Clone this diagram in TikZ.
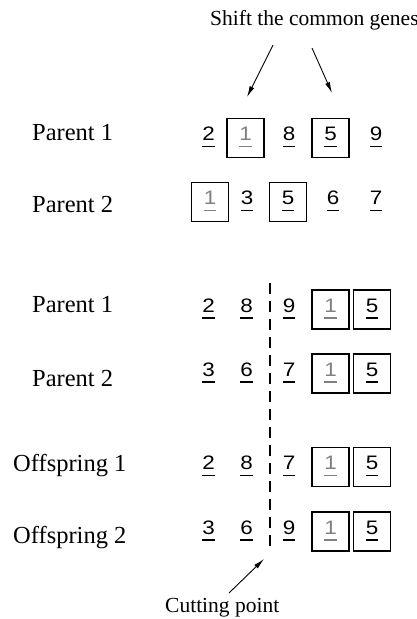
\documentclass[tikz,border=0pt]{standalone}
\usepackage{fontspec}
\setmainfont{Liberation Serif}
\newfontfamily\digitfont{Liberation Sans}
\usetikzlibrary{arrows.meta}
\newcommand\dg[1]{\scalebox{1.15}[1]{#1}}
\tikzset{
  lab/.style={anchor=base west, inner sep=0pt, font=\fontsize{24.5}{26}\selectfont},
  note/.style={anchor=base west, inner sep=0pt, font=\fontsize{21.5}{23}\selectfont},
  gene/.style={anchor=base, inner sep=0pt, font=\digitfont\fontsize{19.5}{21}\selectfont,
    append after command={([yshift=-6pt]\tikzlastnode.base west) edge[line width=1.4pt] ([yshift=-6pt]\tikzlastnode.base east)}},
  genefaint/.style={anchor=base, inner sep=0pt, text=black!50, font=\digitfont\fontsize{19.5}{21}\selectfont,
    append after command={([yshift=-6pt]\tikzlastnode.base west) edge[line width=1.4pt,black!50] ([yshift=-6pt]\tikzlastnode.base east)}},
  genebox/.style={draw, line width=1.4pt, minimum width=37pt, minimum height=39pt, inner sep=0pt},
  arr/.style={line width=0.9pt, -{Latex[length=11pt,width=5pt]}},
  cutline/.style={line width=1.3pt, dash pattern=on 11pt off 7pt}
}
\begin{document}
\begin{tikzpicture}[x=1pt,y=-1pt]
\useasboundingbox (0,0) rectangle (416,619);
% texts
\node[note] (shift) at (210,25) {Shift the common genes};
\node[note] (cut) at (165,612) {Cutting point};
\node[lab] (lp1a) at (32,140) {Parent 1};
\node[lab] (lp2a) at (32,212) {Parent 2};
\node[lab] (lp1b) at (32,312) {Parent 1};
\node[lab] (lp2b) at (32,386) {Parent 2};
\node[lab] (lo1) at (13,471) {Offspring 1};
\node[lab] (lo2) at (13,543) {Offspring 2};
% top parent 1 (yc=138)
\node[genebox] (aB1) at (245.5,138) {};
\node[genebox] (aB5) at (330.5,138) {};
\node[gene] (a1) at (208.5,140.5) {\dg{2}};
\node[genefaint] (a2) at (245.5,140.5) {\dg{1}};
\node[gene] (a3) at (289,140.5) {\dg{8}};
\node[gene] (a4) at (330.5,140.5) {\dg{5}};
\node[gene] (a5) at (376,140.5) {\dg{9}};
% top parent 2 (yc=202)
\node[genebox] (bB1) at (210,202) {};
\node[genebox] (bB5) at (288,202) {};
\node[genefaint] (b1) at (210,204.5) {\dg{1}};
\node[gene] (b2) at (247,204.5) {\dg{3}};
\node[gene] (b3) at (288,204.5) {\dg{5}};
\node[gene] (b4) at (333,204.5) {\dg{6}};
\node[gene] (b5) at (376,204.5) {\dg{7}};
% lower parent 1 (yc=309.5)
\node[genebox] (cB1) at (330.5,309.5) {};
\node[genebox] (cB5) at (372,309.5) {};
\node[gene] (c1) at (208.5,312) {\dg{2}};
\node[gene] (c2) at (246.5,312) {\dg{8}};
\node[gene] (c3) at (289,312) {\dg{9}};
\node[genefaint] (c4) at (330.5,312) {\dg{1}};
\node[gene] (c5) at (372,312) {\dg{5}};
% lower parent 2 (yc=373.5)
\node[genebox] (dB1) at (330.5,373.5) {};
\node[genebox] (dB5) at (372,373.5) {};
\node[gene] (d1) at (208.5,376) {\dg{3}};
\node[gene] (d2) at (246.5,376) {\dg{6}};
\node[gene] (d3) at (289,376) {\dg{7}};
\node[genefaint] (d4) at (330.5,376) {\dg{1}};
\node[gene] (d5) at (372,376) {\dg{5}};
% offspring 1 (yc=467)
\node[genebox] (eB1) at (330.5,467) {};
\node[genebox] (eB5) at (372,467) {};
\node[gene] (e1) at (208.5,469.5) {\dg{2}};
\node[gene] (e2) at (246.5,469.5) {\dg{8}};
\node[gene] (e3) at (289,469.5) {\dg{7}};
\node[genefaint] (e4) at (330.5,469.5) {\dg{1}};
\node[gene] (e5) at (372,469.5) {\dg{5}};
% offspring 2 (yc=531.5)
\node[genebox] (fB1) at (330.5,531.5) {};
\node[genebox] (fB5) at (372,531.5) {};
\node[gene] (f1) at (208.5,534) {\dg{3}};
\node[gene] (f2) at (246.5,534) {\dg{6}};
\node[gene] (f3) at (289,534) {\dg{9}};
\node[genefaint] (f4) at (330.5,534) {\dg{1}};
\node[gene] (f5) at (372,534) {\dg{5}};
% connectors
\coordinate (sL) at (273,45);
\coordinate (tL) at (247,97);
\coordinate (sR) at (312,48);
\coordinate (tR) at (332,93);
\draw[arr] (sL) -- (tL);
\draw[arr] (sR) -- (tR);
\coordinate (cutTop) at (270,283);
\coordinate (cutBot) at (270,553);
\draw[cutline] (cutTop) -- (cutBot);
\coordinate (cS) at (229,593);
\coordinate (cT) at (264,559);
\draw[arr] (cS) -- (cT);
\end{tikzpicture}
\end{document}
